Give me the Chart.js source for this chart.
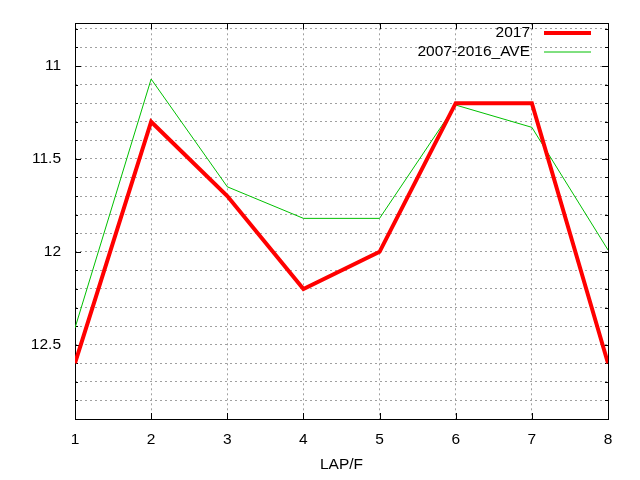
<!DOCTYPE html>
<html><head><meta charset="utf-8">
<script src="https://cdn.jsdelivr.net/npm/chart.js@4"></script>
<style>html,body{margin:0;padding:0;background:#fff}#w{width:640px;height:480px}</style>
</head><body><div id="w"><canvas id="c"></canvas></div>
<script>
const laps = [1, 2, 3, 4, 5, 6, 7, 8];
const series2017 = [12.6, 11.3, 11.7, 12.2, 12.0, 11.2, 11.2, 12.6];
const seriesAve = [12.41, 11.07, 11.65, 11.82, 11.82, 11.21, 11.33, 11.99];
const seriesNames = ['2017', '2007-2016_AVE'];
const yGridTicks = [10.8, 10.9, 11.0, 11.1, 11.2, 11.3, 11.4, 11.5, 11.6, 11.7, 11.8, 11.9, 12.0, 12.1, 12.2, 12.3, 12.4, 12.5, 12.6, 12.7, 12.8];
const yLabelTicks = [11, 11.5, 12, 12.5];
const xTitle = 'LAP/F';

const FONT = 'Liberation Sans, Arial, sans-serif';
const frame = {
  id: 'frame',
  beforeDatasetsDraw(chart) {
    const {ctx, chartArea: a, scales} = chart;
    ctx.save();
    ctx.strokeStyle = '#000'; ctx.lineWidth = 1;
    ctx.beginPath();
    laps.forEach(v => {
      const x = Math.round(scales.x.getPixelForValue(v)) + 0.5;
      ctx.moveTo(x, a.bottom); ctx.lineTo(x, a.bottom - 6);
      ctx.moveTo(x, a.top); ctx.lineTo(x, a.top + 6);
    });
    yGridTicks.forEach(v => {
      const y = Math.round(scales.y.getPixelForValue(v)) + 0.5;
      const major = yLabelTicks.some(t => Math.abs(t - v) < 1e-6);
      const len = major ? 6 : 3;
      ctx.moveTo(a.left, y); ctx.lineTo(a.left + len, y);
      ctx.moveTo(a.right, y); ctx.lineTo(a.right - len, y);
    });
    ctx.stroke();
    ctx.strokeRect(Math.round(a.left) + 0.5, Math.round(a.top) + 0.5, Math.round(a.right - a.left), Math.round(a.bottom - a.top));
    ctx.restore();
  },
  afterDraw(chart) {
    const {ctx} = chart;
    ctx.save();
    ctx.font = '15.5px ' + FONT;
    ctx.textAlign = 'right'; ctx.textBaseline = 'middle';
    chart.data.datasets.forEach((ds, i) => {
      const y = 33 + i * 19;
      ctx.fillStyle = '#000';
      ctx.fillText(ds.label, 530, y);
      ctx.strokeStyle = ds.borderColor; ctx.lineWidth = ds.borderWidth;
      ctx.beginPath(); ctx.moveTo(544, y); ctx.lineTo(591, y); ctx.stroke();
    });
    ctx.restore();
  }
};

new Chart(document.getElementById('c'), {
  type: 'line',
  data: {
    datasets: [
      {label: seriesNames[0], data: laps.map((x, i) => ({x, y: series2017[i]})), borderColor: '#ff0000', borderWidth: 4, pointRadius: 0, tension: 0},
      {label: seriesNames[1], data: laps.map((x, i) => ({x, y: seriesAve[i]})), borderColor: '#00c000', borderWidth: 1, pointRadius: 0, tension: 0}
    ]
  },
  options: {
    animation: false, responsive: true, maintainAspectRatio: false,
    layout: {padding: {left: 0, right: 32, top: 19, bottom: 0}},
    plugins: {legend: {display: false}, tooltip: {enabled: false}},
    scales: {
      x: {
        type: 'linear', min: 1, max: 8,
        afterBuildTicks: s => { s.ticks = laps.map(v => ({value: v})); },
        afterFit: s => { s.height = 61; },
        grid: {color: '#a0a0a0', drawTicks: false, lineWidth: 1},
        border: {display: false, dash: [2, 3]},
        ticks: {color: '#000', font: {family: FONT, size: 15.5}, padding: 11, callback: v => String(v), maxRotation: 0},
        title: {display: true, text: xTitle, color: '#000', font: {family: FONT, size: 15.5}, padding: {top: 4, bottom: 6}}
      },
      y: {
        type: 'linear', reverse: true, min: 10.77, max: 12.9,
        afterBuildTicks: s => { s.ticks = yGridTicks.map(v => ({value: v})); },
        afterFit: s => { s.width = 75; },
        grid: {color: '#a0a0a0', drawTicks: false, lineWidth: 1},
        border: {display: false, dash: [2, 3]},
        ticks: {color: '#000', font: {family: FONT, size: 15.5}, padding: 14, autoSkip: false,
          callback: v => yLabelTicks.some(t => Math.abs(t - v) < 1e-6) ? String(Math.round(v * 10) / 10) : ''}
      }
    }
  },
  plugins: [frame]
});
</script>
</body></html>
